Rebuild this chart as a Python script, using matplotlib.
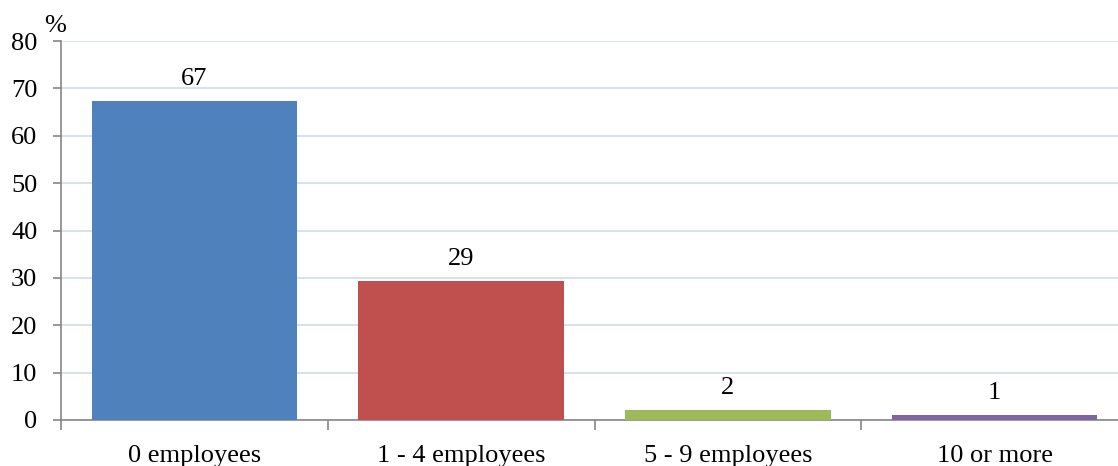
import numpy as np
import matplotlib.pyplot as plt

plt.rcParams['font.family'] = ['Liberation Serif', 'DejaVu Serif']

# data
categories = ['0 employees', '1 - 4 employees', '5 - 9 employees', '10 or more']
values = [67.3, 29.3, 2.2, 1.1]
labels = ['67', '29', '2', '1']
colors = ['#4f81bd', '#c0504d', '#9bbb59', '#8064a2']

W, H = 1118, 466
fs = 19
fig = plt.figure(figsize=(W / 100, H / 100), dpi=100)
# axes runs a bit past the right edge of the image, as in the reference
ax = fig.add_axes([61 / W, (H - 420) / H, (1128 - 61) / W, (420 - 41) / H])

x = np.arange(len(categories))
ax.bar(x, values, width=0.77, color=colors, zorder=3)
for xi, v, lab in zip(x, values, labels):
    ax.text(xi, v + 2.3, lab, ha='center', va='bottom', fontsize=fs)

ax.set_xlim(-0.5, len(categories) - 0.5)
ax.set_ylim(0, 80)
ax.set_yticks(np.arange(0, 81, 10))
ax.yaxis.grid(True, color='#d3deee', linewidth=1.3, zorder=0)

ax.set_xticks(x)
ax.set_xticklabels(categories, fontsize=fs)
ax.tick_params(axis='x', length=0, pad=18)
ax.set_xticks(np.arange(-0.5, len(categories), 1), minor=True)
ax.tick_params(axis='x', which='minor', length=7, color='#868686', width=1.2)
ax.tick_params(axis='y', labelsize=fs, length=6, color='#868686', width=1.2, pad=11)

for s in ['top', 'right']:
    ax.spines[s].set_visible(False)
for s in ['left', 'bottom']:
    ax.spines[s].set_color('#868686')
    ax.spines[s].set_linewidth(1.2)

fig.text(44 / W, 1 - 26 / H, '%', fontsize=fs, ha='left', va='center')

plt.savefig('out.png', dpi=100)
